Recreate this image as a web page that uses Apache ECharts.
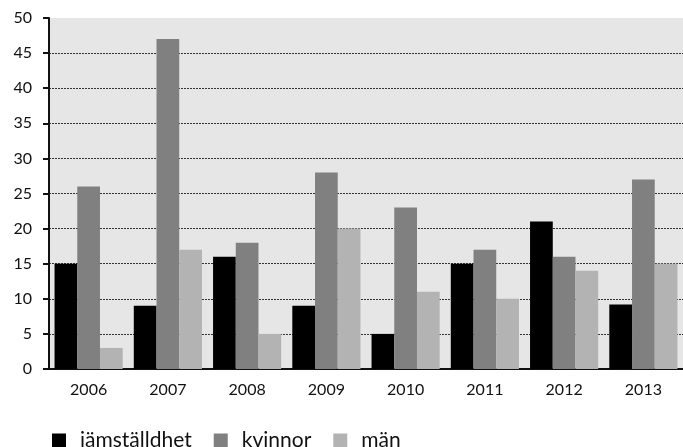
<!DOCTYPE html>
<html><head><meta charset="utf-8">
<script src="https://cdn.jsdelivr.net/npm/echarts@6/dist/echarts.min.js"></script>
<style>html,body{margin:0;padding:0;background:#fff}#c{width:683px;height:447px}</style>
</head><body><div id="c"></div>
<script>
const categories = ['2006','2007','2008','2009','2010','2011','2012','2013'];
const jamstalldhet = [15, 9, 16, 9, 5, 15, 21, 9.2];
const kvinnor = [26, 47, 18, 28, 23, 17, 16, 27];
const man = [3, 17, 5, 20, 11, 10, 14, 15];
const FONT = 'Lato, "Open Sans", sans-serif';
const chart = echarts.init(document.getElementById('c'));
chart.setOption({
  animation: false,
  textStyle: {fontFamily: FONT},
  grid: {left: 49, top: 18, right: 0, bottom: 78, show: true, backgroundColor: '#e6e6e6', borderWidth: 0},
  legend: {
    left: 47, top: 425, itemWidth: 14, itemHeight: 14, itemGap: 22, icon: 'rect',
    textStyle: {fontSize: 21, color: '#111', fontFamily: FONT, padding: [0,0,0,9]},
    data: ['jämställdhet','kvinnor','män']
  },
  xAxis: {
    type: 'category', data: categories,
    axisLine: {lineStyle: {color: '#111', width: 2}},
    axisTick: {show: false},
    axisLabel: {color: '#111', fontSize: 16, margin: 13, fontFamily: FONT}
  },
  yAxis: {
    type: 'value', min: 0, max: 50, interval: 5,
    axisLine: {show: true, lineStyle: {color: '#111', width: 2}},
    axisTick: {show: true, length: 6, lineStyle: {color: '#111', width: 2}},
    axisLabel: {color: '#111', fontSize: 16, margin: 17, fontFamily: FONT},
    splitLine: {show: true, showMinLine: false, showMaxLine: false, lineStyle: {color: '#333', type: [2,1], width: 1}}
  },
  series: [
    {name: 'jämställdhet', type: 'bar', data: jamstalldhet, itemStyle: {color: '#000'}, barGap: '0%', barCategoryGap: '14%'},
    {name: 'kvinnor', type: 'bar', data: kvinnor, itemStyle: {color: '#808080'}},
    {name: 'män', type: 'bar', data: man, itemStyle: {color: '#b3b3b3'}}
  ]
});
</script></body></html>
